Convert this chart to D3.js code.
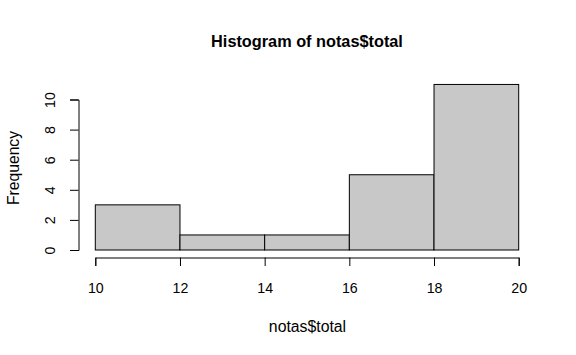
<!DOCTYPE html>
<html>
<head>
<meta charset="utf-8">
<script src="https://cdn.jsdelivr.net/npm/d3@7"></script>
<style>
  body { margin: 0; background: #fff; }
  text { font-family: "Liberation Sans", Arial, sans-serif; fill: #000; }
</style>
</head>
<body>
<svg id="chart" width="576" height="355"></svg>
<script>
// histogram bins (notas$total)
const binStarts = [10, 12, 14, 16, 18];
const binEnds = [12, 14, 16, 18, 20];
const counts = [3, 1, 1, 5, 11];
const xTicks = [10, 12, 14, 16, 18, 20];
const yTicks = [0, 2, 4, 6, 8, 10];

const svg = d3.select('#chart');
const x = d3.scaleLinear().domain([10, 20]).range([95.3, 518.7]);
const y = d3.scaleLinear().domain([0, 10]).range([250, 99.5]);

// bars
svg.selectAll('rect.bar')
  .data(counts)
  .enter().append('rect')
  .attr('class', 'bar')
  .attr('x', (d, i) => x(binStarts[i]))
  .attr('y', d => y(d))
  .attr('width', (d, i) => x(binEnds[i]) - x(binStarts[i]))
  .attr('height', d => y(0) - y(d))
  .attr('fill', '#c8c8c8')
  .attr('stroke', '#000')
  .attr('stroke-width', 1);

// x axis
const xAxis = svg.append('g')
  .attr('transform', 'translate(0,257.5)')
  .call(d3.axisBottom(x).tickValues(xTicks).tickSize(8.5).tickPadding(17.4).tickFormat(d3.format('d')));
xAxis.select('.domain').attr('stroke', '#000');
xAxis.selectAll('.tick line').attr('stroke', '#000');
xAxis.selectAll('text').attr('font-size', 14.2).attr('font-family', '"Liberation Sans", Arial, sans-serif');

// y axis
const yAxis = svg.append('g')
  .attr('transform', 'translate(78.5,0)')
  .call(d3.axisLeft(y).tickValues(yTicks).tickSize(8.5).tickFormat(d3.format('d')));
yAxis.select('.domain').attr('stroke', '#000');
yAxis.selectAll('.tick line').attr('stroke', '#000');
yAxis.selectAll('.tick text')
  .attr('x', null).attr('dy', null)
  .attr('text-anchor', 'middle')
  .attr('font-size', 14.2)
  .attr('font-family', '"Liberation Sans", Arial, sans-serif')
  .attr('transform', 'translate(-28.5,0) rotate(-90)')
  .attr('dy', '0.35em');

// title
svg.append('text')
  .attr('x', 307).attr('y', 46.5)
  .attr('text-anchor', 'middle')
  .attr('font-size', 16.3)
  .attr('font-weight', 'bold')
  .text('Histogram of notas$total');

// x label
svg.append('text')
  .attr('x', 307.5).attr('y', 331.5)
  .attr('text-anchor', 'middle')
  .attr('font-size', 15.8)
  .text('notas$total');

// y label
svg.append('text')
  .attr('transform', 'translate(18.5,168) rotate(-90)')
  .attr('text-anchor', 'middle')
  .attr('font-size', 15.7)
  .text('Frequency');
</script>
</body>
</html>
